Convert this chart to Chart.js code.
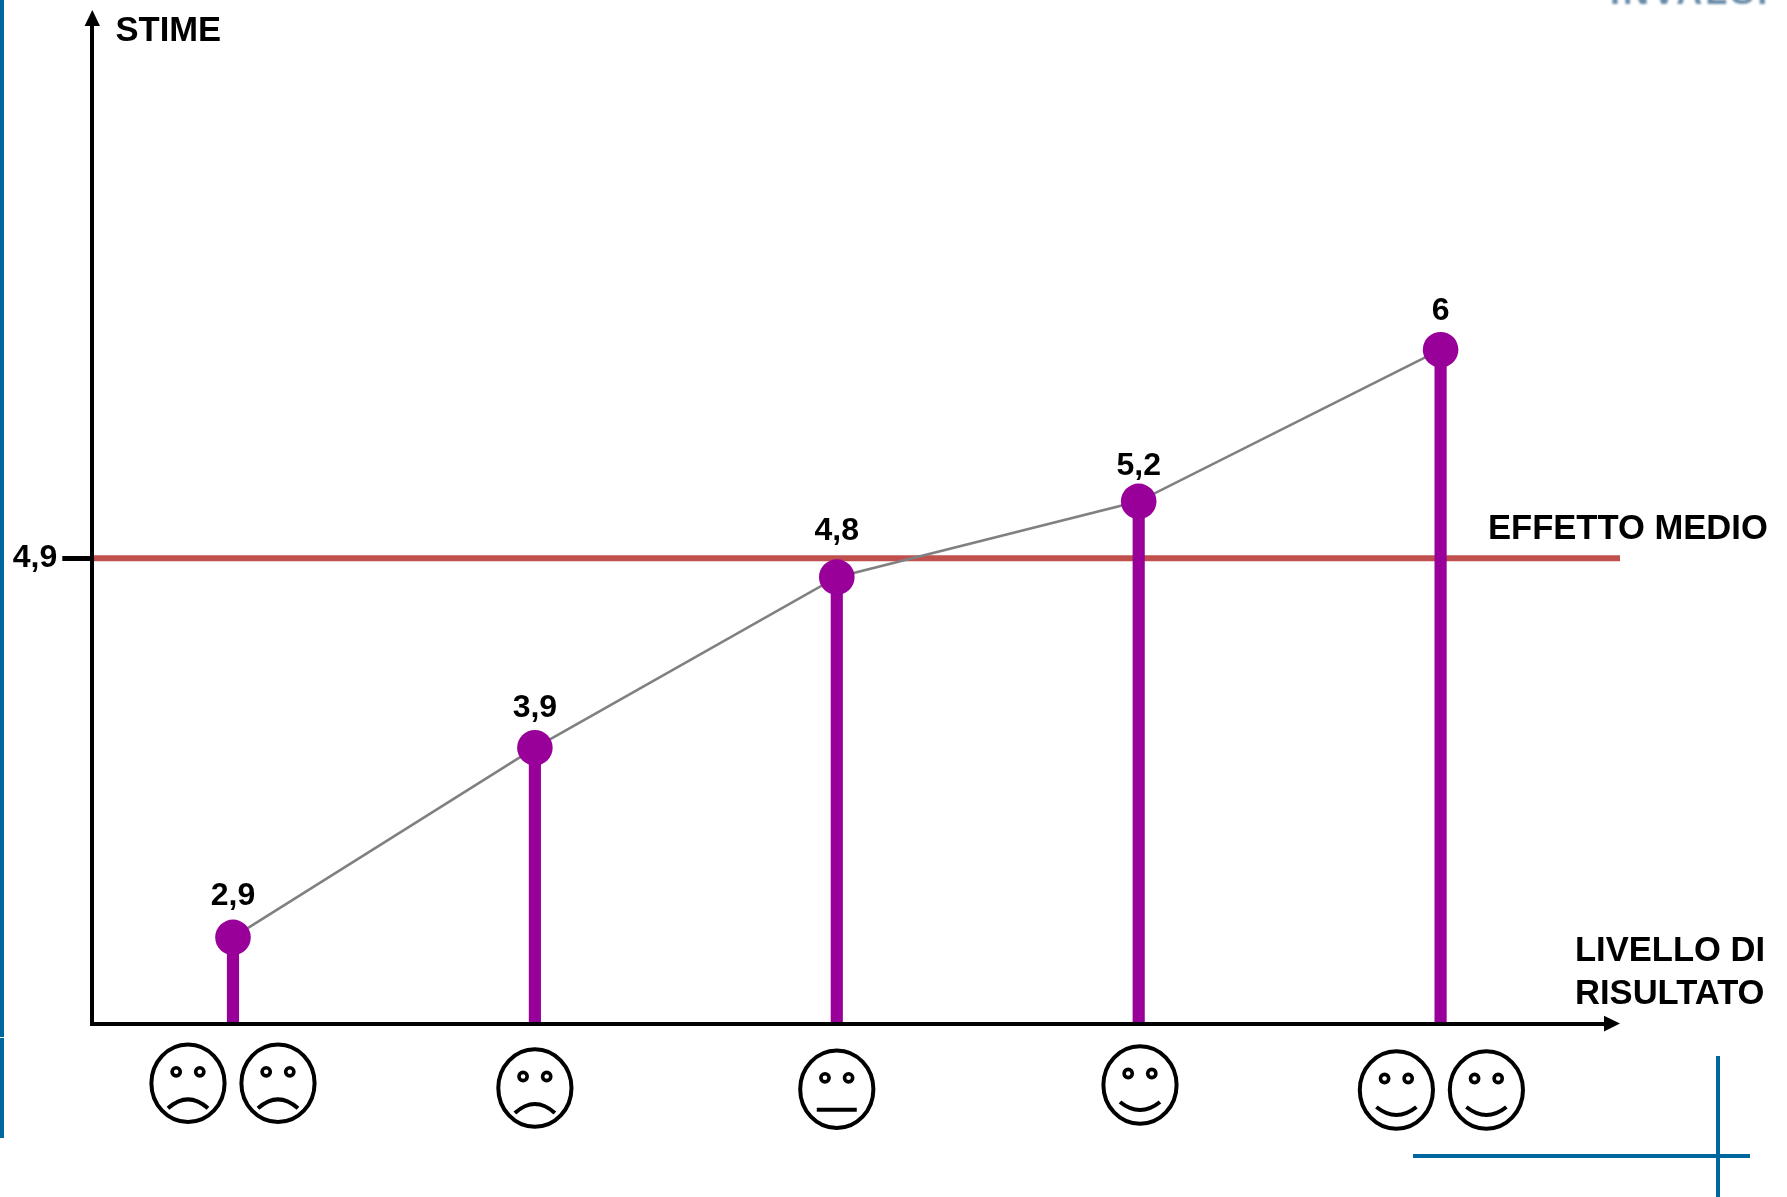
<!DOCTYPE html>
<html lang="it">
<head>
<meta charset="utf-8">
<title>Stime per livello di risultato</title>
<script src="https://cdn.jsdelivr.net/npm/chart.js@4"></script>
<style>
  html, body { margin: 0; padding: 0; background: #fff; }
  body { width: 1787px; height: 1197px; overflow: hidden; position: relative; }
  canvas { position: absolute; left: 0; top: 0; display: block; }
</style>
</head>
<body>
<canvas id="chart" width="1787" height="1197"></canvas>
<script>
// ---- data ----
const levelIndex = [0, 1, 2, 3, 4];
const levelMoods = ['frown', 'frown', 'neutral', 'smile', 'smile'];
const levelFaceCounts = [2, 1, 1, 1, 2];
const stime = [2.9, 3.9, 4.8, 5.2, 6];
const stimeLabels = ['2,9', '3,9', '4,8', '5,2', '6'];
const effettoMedio = 4.9;
const yTickLabels = ['4,9'];
const yAxisTitle = 'STIME';
const xAxisTitle = ['LIVELLO DI', 'RISULTATO'];
const meanLabel = 'EFFETTO MEDIO';
const logoText = 'INVALSI';

// ---- scale ranges ----
const xMin = -0.466, xMax = 4.5479, meanEndX = 4.5942;
const yMin = 2.445, yMax = 7.717;

const BOLD = 'bold 34.6px "Liberation Sans", Arial, sans-serif';
const BOLD_SMALL = 'bold 32px "Liberation Sans", Arial, sans-serif';
const PURPLE = '#990099', RED = '#c0504d', GREY = '#808080', BLUE = '#00669e';

// hand placement of the value labels and faces
const labelLift = [32.5, 31, 37, 26.5, 30];
const faceY = [1083.3, 1088, 1089.3, 1085, 1090];
const faceDx = [0, 0, 0, 1.3, 0.8];
const faceSpread = 45;

function drawFace(ctx, cx, cy, mood) {
  ctx.save();
  ctx.strokeStyle = '#000';
  ctx.lineCap = 'butt';
  ctx.lineWidth = 4;
  ctx.beginPath();
  ctx.ellipse(cx, cy, 36.6, 38.8, 0, 0, Math.PI * 2);
  ctx.stroke();
  ctx.lineWidth = 3.6;
  [-11.8, 11.8].forEach(dx => {
    ctx.beginPath();
    ctx.arc(cx + dx, cy - 11.5, 4.1, 0, Math.PI * 2);
    ctx.stroke();
  });
  ctx.lineWidth = 4;
  ctx.beginPath();
  if (mood === 'frown') {
    ctx.moveTo(cx - 20, cy + 25);
    ctx.quadraticCurveTo(cx, cy + 7, cx + 20, cy + 25);
  } else if (mood === 'smile') {
    ctx.moveTo(cx - 20, cy + 17);
    ctx.quadraticCurveTo(cx, cy + 33, cx + 20, cy + 17);
  } else {
    ctx.moveTo(cx - 20, cy + 20.5);
    ctx.lineTo(cx + 20, cy + 20.5);
  }
  ctx.stroke();
  ctx.restore();
}

const decorations = {
  id: 'decorations',
  afterDraw(chart) {
    const { ctx, scales: { x, y }, chartArea: a } = chart;
    ctx.save();

    // page furniture in the house blue
    ctx.fillStyle = BLUE;
    ctx.fillRect(0, 0, 4, 1037);
    ctx.fillRect(0, 1038, 4, 100);
    ctx.fillRect(1413, 1154, 337, 4);
    ctx.fillRect(1716, 1056, 4, 141);

    // logo cut off by the top edge
    ctx.save();
    ctx.filter = 'blur(0.9px)';
    ctx.fillStyle = '#6a8ca8';
    ctx.font = 'bold 36px "Liberation Sans", Arial, sans-serif';
    ctx.letterSpacing = '3px';
    ctx.textAlign = 'left';
    ctx.textBaseline = 'alphabetic';
    ctx.fillText(logoText, 1610, 4);
    ctx.restore();

    // axis arrow heads
    ctx.fillStyle = '#000';
    ctx.beginPath();
    ctx.moveTo(a.left, 10);
    ctx.lineTo(a.left - 7.7, 26);
    ctx.lineTo(a.left + 7.7, 26);
    ctx.closePath();
    ctx.fill();
    ctx.beginPath();
    ctx.moveTo(1620, 1023.6);
    ctx.lineTo(1604, 1023.6 - 7.8);
    ctx.lineTo(1604, 1023.6 + 7.8);
    ctx.closePath();
    ctx.fill();

    // texts
    ctx.fillStyle = '#000';
    ctx.textBaseline = 'alphabetic';
    ctx.textAlign = 'left';
    ctx.font = BOLD;
    ctx.fillText(yAxisTitle, 115.5, 40.5);
    ctx.fillText(xAxisTitle[0], 1575, 961);
    ctx.fillText(xAxisTitle[1], 1575, 1003.5);
    ctx.fillText(meanLabel, 1488, 539);

    // value labels
    ctx.font = BOLD_SMALL;
    ctx.textAlign = 'center';
    stime.forEach((v, i) => {
      ctx.fillText(stimeLabels[i], x.getPixelForValue(levelIndex[i]), y.getPixelForValue(v) - labelLift[i]);
    });

    // faces under the axis ticks
    levelIndex.forEach((lvl, i) => {
      const cx = x.getPixelForValue(lvl) + faceDx[i];
      if (levelFaceCounts[i] === 2) {
        drawFace(ctx, cx - faceSpread, faceY[i], levelMoods[i]);
        drawFace(ctx, cx + faceSpread, faceY[i], levelMoods[i]);
      } else {
        drawFace(ctx, cx, faceY[i], levelMoods[i]);
      }
    });
    ctx.restore();
  }
};

new Chart(document.getElementById('chart'), {
  type: 'bar',
  data: {
    datasets: [
      {
        type: 'line',
        label: meanLabel,
        order: 3,
        data: [{ x: xMin, y: effettoMedio }, { x: meanEndX, y: effettoMedio }],
        borderColor: RED,
        borderWidth: 6,
        pointRadius: 0,
        clip: false
      },
      {
        type: 'bar',
        label: 'Aste',
        order: 2,
        data: levelIndex.map((l, i) => ({ x: l, y: stime[i] })),
        backgroundColor: PURPLE,
        barThickness: 11.5
      },
      {
        type: 'line',
        label: 'Stime',
        order: 1,
        data: levelIndex.map((l, i) => ({ x: l, y: stime[i] })),
        borderColor: GREY,
        borderWidth: 2.6,
        tension: 0,
        pointRadius: 17.8,
        pointBorderWidth: 0,
        pointBackgroundColor: PURPLE,
        clip: false
      }
    ]
  },
  options: {
    responsive: false,
    animation: false,
    layout: { autoPadding: false, padding: { top: 24, right: 181, left: 0, bottom: 0 } },
    plugins: { legend: { display: false }, tooltip: { enabled: false } },
    scales: {
      x: {
        type: 'linear',
        offset: false,
        bounds: 'data',
        min: xMin,
        max: xMax,
        ticks: { display: false },
        grid: { display: false },
        border: { color: '#000', width: 4, z: 1 },
        afterFit(s) { s.height = 1197 - 1023.6; }
      },
      y: {
        type: 'linear',
        bounds: 'data',
        min: yMin,
        max: yMax,
        afterBuildTicks(s) { s.ticks = [{ value: effettoMedio }]; },
        ticks: {
          autoSkip: false,
          padding: 5,
          color: '#000',
          font: { family: '"Liberation Sans", Arial, sans-serif', size: 32, weight: 'bold' },
          callback: () => yTickLabels[0]
        },
        grid: {
          drawOnChartArea: false,
          drawTicks: true,
          tickLength: 30,
          tickWidth: 5,
          tickColor: '#000'
        },
        border: { color: '#000', width: 4, z: 1 },
        afterFit(s) { s.width = 92.3; }
      }
    }
  },
  plugins: [decorations]
});
</script>
</body>
</html>
